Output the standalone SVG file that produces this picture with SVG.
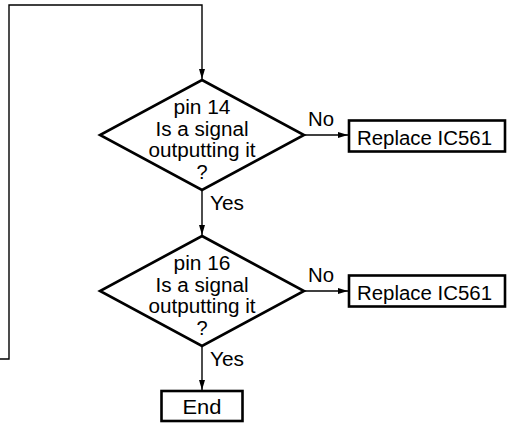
<svg xmlns="http://www.w3.org/2000/svg" width="507" height="423" viewBox="0 0 507 423">
<style>
.shape{fill:#fff;stroke:#000;stroke-width:2.6}
.conn{fill:none;stroke:#000;stroke-width:1.4}
text{font-family:"Liberation Sans",Arial,sans-serif;font-size:20px;fill:#000}
.c{text-anchor:middle}
</style>
<defs>
<marker id="arr" viewBox="0 0 10 6" refX="10" refY="3" markerWidth="10" markerHeight="6" markerUnits="userSpaceOnUse" orient="auto">
<path d="M0,0 L10,3 L0,6 Z" fill="#000"/>
</marker>
</defs>
<g id="connectors">
<path class="conn" d="M0,359 H9 V5 H202 V79" marker-end="url(#arr)"/>
<path class="conn" d="M202,190 V235" marker-end="url(#arr)"/>
<path class="conn" d="M202,346 V390" marker-end="url(#arr)"/>
<path class="conn" d="M304,135 H348" marker-end="url(#arr)"/>
<path class="conn" d="M304,291 H348" marker-end="url(#arr)"/>
<text x="308" y="126" textLength="26" lengthAdjust="spacingAndGlyphs">No</text>
<text x="308" y="282" textLength="26" lengthAdjust="spacingAndGlyphs">No</text>
<text x="210" y="210" textLength="34" lengthAdjust="spacingAndGlyphs">Yes</text>
<text x="210" y="366" textLength="34" lengthAdjust="spacingAndGlyphs">Yes</text>
</g>
<g id="decision1">
<polygon class="shape" points="202,80 304,135 202,190 100,135"/>
<text class="c" x="202" y="114" textLength="57" lengthAdjust="spacingAndGlyphs">pin 14</text>
<text class="c" x="202" y="135.5" textLength="93" lengthAdjust="spacingAndGlyphs">Is a signal</text>
<text class="c" x="202" y="157" textLength="107" lengthAdjust="spacingAndGlyphs">outputting it</text>
<text class="c" x="202" y="178.5">?</text>
</g>
<g id="replace1">
<rect class="shape" x="349" y="120.5" width="156" height="31"/>
<text x="357" y="145" textLength="135" lengthAdjust="spacingAndGlyphs">Replace IC561</text>
</g>
<g id="decision2">
<polygon class="shape" points="202,236 304,291 202,346 100,291"/>
<text class="c" x="202" y="270" textLength="57" lengthAdjust="spacingAndGlyphs">pin 16</text>
<text class="c" x="202" y="291.5" textLength="93" lengthAdjust="spacingAndGlyphs">Is a signal</text>
<text class="c" x="202" y="313" textLength="107" lengthAdjust="spacingAndGlyphs">outputting it</text>
<text class="c" x="202" y="334.5">?</text>
</g>
<g id="replace2">
<rect class="shape" x="349" y="275.5" width="156" height="31"/>
<text x="357" y="300" textLength="135" lengthAdjust="spacingAndGlyphs">Replace IC561</text>
</g>
<g id="end">
<rect class="shape" x="161.5" y="391" width="81" height="30"/>
<text class="c" x="202" y="413.5" textLength="39" lengthAdjust="spacingAndGlyphs">End</text>
</g>
</svg>
